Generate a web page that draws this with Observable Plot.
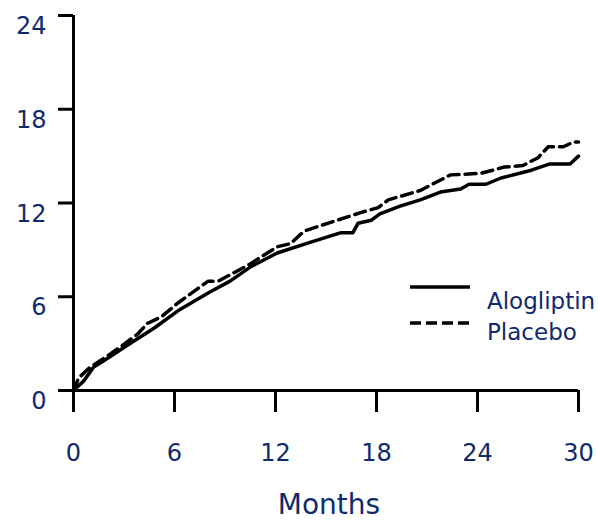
<!DOCTYPE html>
<html>
<head>
<meta charset="utf-8">
<script src="https://cdn.jsdelivr.net/npm/d3@7"></script>
<script src="https://cdn.jsdelivr.net/npm/@observablehq/plot@0.6"></script>
<style>
  html, body { margin: 0; padding: 0; background: #fff; }
  #wrap { position: relative; width: 598px; height: 520px; }
  #legend { position: absolute; left: 0; top: 0; pointer-events: none; }
  #legend text { font-family: "DejaVu Sans", Verdana, sans-serif; font-size: 23px; fill: #102a6e; }
</style>
</head>
<body>
<div id="wrap"></div>
<script>
// Cumulative incidence (%) over follow-up, by treatment arm
const alogliptinMonths = [0, 0.6, 1.2, 1.8, 3.2, 4.8, 6.2, 8.1, 9.3, 10.5, 12.1, 14.1, 15.9, 16.6, 16.9, 17.7, 18.2, 19.4, 20.6, 21.8, 23.0, 23.5, 24.5, 25.4, 27.2, 28.3, 29.5, 30.0];
const alogliptinValues = [0, 0.6, 1.5, 1.9, 2.9, 4.0, 5.1, 6.3, 7.0, 7.9, 8.8, 9.5, 10.1, 10.1, 10.7, 10.9, 11.3, 11.8, 12.2, 12.7, 12.9, 13.2, 13.2, 13.6, 14.1, 14.5, 14.5, 15.0];

const placeboMonths = [0, 0.3, 1.0, 2.0, 2.8, 3.8, 4.4, 5.2, 6.2, 8.0, 8.6, 10.5, 12.1, 12.9, 13.7, 15.1, 17.1, 18.1, 18.7, 20.6, 22.4, 24.2, 25.6, 26.7, 27.6, 28.2, 29.1, 29.7, 30.0];
const placeboValues = [0, 0.8, 1.5, 2.2, 2.8, 3.6, 4.3, 4.7, 5.6, 7.0, 7.0, 8.1, 9.2, 9.4, 10.2, 10.7, 11.4, 11.7, 12.2, 12.8, 13.8, 13.9, 14.3, 14.4, 14.9, 15.6, 15.6, 15.9, 15.9];

const seriesNames = ["Alogliptin", "Placebo"];
const xTicks = [0, 6, 12, 18, 24, 30];
const yTicks = [0, 6, 12, 18, 24];
const xLabel = "Months";

const navy = "#102a6e";

const alogliptin = alogliptinMonths.map((m, i) => ({month: m, value: alogliptinValues[i]}));
const placebo = placeboMonths.map((m, i) => ({month: m, value: placeboValues[i]}));

const chart = Plot.plot({
  width: 598,
  height: 520,
  marginLeft: 73,
  marginRight: 20,
  marginTop: 15,
  marginBottom: 130,
  style: {fontFamily: "DejaVu Sans, Verdana, sans-serif", background: "#fff", overflow: "visible"},
  x: {domain: [0, 30]},
  y: {domain: [0, 24]},
  marks: [
    // tick marks
    Plot.axisX({ticks: xTicks, tickSize: 22, tickFormat: () => "", stroke: "#000", strokeWidth: 3, label: null}),
    Plot.axisY({ticks: yTicks, tickSize: 15, tickFormat: () => "", stroke: "#000", strokeWidth: 3, label: null}),
    // tick labels
    Plot.axisX({ticks: xTicks, tickSize: 0, tickPadding: 53, fill: navy, fontSize: 24, label: null}),
    Plot.axisY({ticks: yTicks, tickSize: 0, tickPadding: 27, dy: 11, fill: navy, fontSize: 24, label: null}),
    // axis lines
    Plot.ruleX([0], {stroke: "#000", strokeWidth: 3}),
    Plot.ruleY([0], {stroke: "#000", strokeWidth: 3}),
    // series
    Plot.line(placebo, {x: "month", y: "value", stroke: "#000", strokeWidth: 3.5, strokeDasharray: "11,6", strokeLinejoin: "miter"}),
    Plot.line(alogliptin, {x: "month", y: "value", stroke: "#000", strokeWidth: 3.5}),
    // axis title
    Plot.text([xLabel], {frameAnchor: "bottom", dx: 3, dy: 123, fontSize: 28, fill: navy})
  ]
});

const wrap = document.getElementById("wrap");
wrap.appendChild(chart);

// Legend overlaid inside the plot area
const legend = d3.select(wrap).append("svg")
  .attr("id", "legend")
  .attr("width", 598)
  .attr("height", 520);

const legendRows = legend.selectAll("g")
  .data(seriesNames)
  .join("g")
  .attr("transform", (d, i) => `translate(410, ${287 + i * 36})`);

legendRows.append("line")
  .attr("x1", 0).attr("x2", 60)
  .attr("y1", 0).attr("y2", 0)
  .attr("stroke", "#000")
  .attr("stroke-width", 3.5)
  .attr("stroke-dasharray", (d, i) => i === 1 ? "11,5" : null);

legendRows.append("text")
  .attr("x", 77)
  .attr("y", (d, i) => 22 - i * 5)
  .text(d => d);
</script>
</body>
</html>
